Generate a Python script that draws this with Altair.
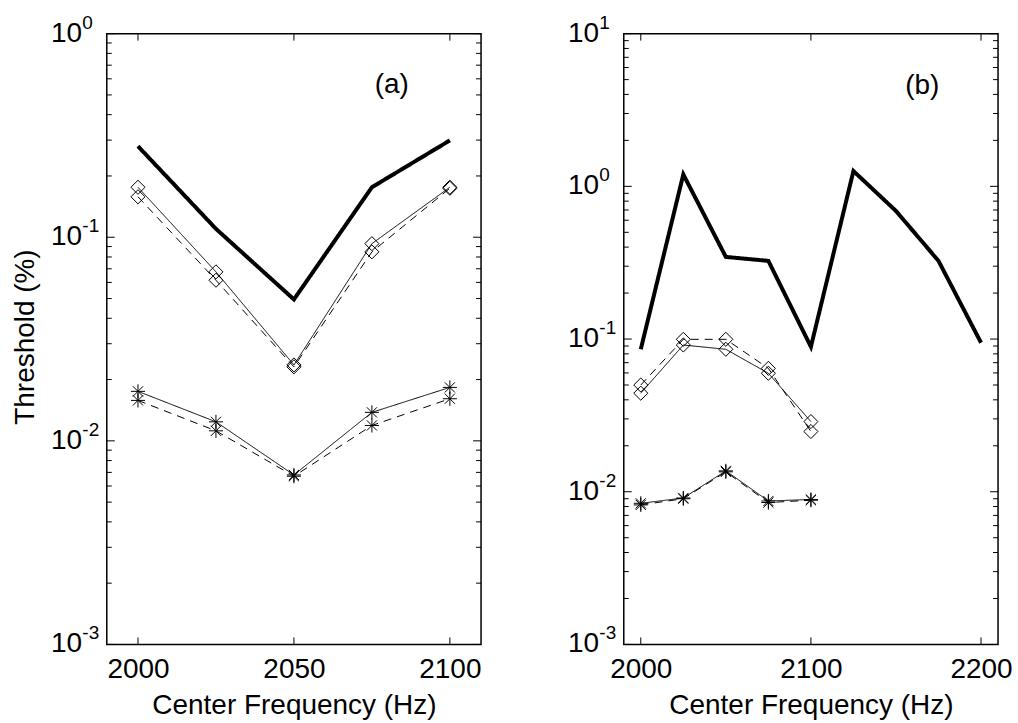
import altair as alt
import pandas as pd

# ---------------- data ----------------
freq_a = [2000, 2025, 2050, 2075, 2100]
a_thick = [0.28, 0.11, 0.0495, 0.176, 0.299]
a_dia_solid = [0.176, 0.0676, 0.0236, 0.093, 0.176]
a_dia_dash = [0.158, 0.0615, 0.0231, 0.0848, 0.174]
a_star_solid = [0.0175, 0.0124, 0.0068, 0.0138, 0.0183]
a_star_dash = [0.0158, 0.0112, 0.0067, 0.0119, 0.0161]

freq_b_thick = [2000, 2025, 2050, 2075, 2100, 2125, 2150, 2175, 2200]
b_thick = [0.0857, 1.197, 0.345, 0.325, 0.089, 1.26, 0.69, 0.325, 0.0946]
freq_b = [2000, 2025, 2050, 2075, 2100]
b_dia_solid = [0.0442, 0.0914, 0.0857, 0.0597, 0.0288]
b_dia_dash = [0.05, 0.0996, 0.0996, 0.0643, 0.0248]
b_star_solid = [0.0084, 0.0091, 0.0137, 0.0087, 0.0089]
b_star_dash = [0.0082, 0.0090, 0.0135, 0.0085, 0.0088]

xticks_a = [2000, 2050, 2100]
xticks_b = [2000, 2100, 2200]
decades_a = [0.001, 0.01, 0.1, 1]
exps_a = ["-3", "-2", "-1", "0"]
decades_b = [0.001, 0.01, 0.1, 1, 10]
exps_b = ["-3", "-2", "-1", "0", "1"]

FONT = "Liberation Sans"
W, H = 375, 612
STAR = "M-1,0L1,0M0,-1L0,1M-0.72,-0.72L0.72,0.72M-0.72,0.72L0.72,-0.72"


def minor_ticks(decades):
    out = []
    for d in decades[:-1]:
        for m in range(2, 10):
            out.append(d * m)
    return out


def panel(xdom, ydom, xticks, decades, exps, series, label, lx, ly, ytitle):
    xs = alt.Scale(domain=xdom, nice=False, zero=False)
    ys = alt.Scale(type="log", domain=ydom, nice=False)
    xaxis = alt.Axis(values=xticks, ticks=False, domain=False, grid=False,
                     labelFontSize=28, labelPadding=11, labelFont=FONT,
                     labelColor="black", format="d", labelFlush=False,
                     title="Center Frequency (Hz)", titleFontSize=28,
                     titleFont=FONT, titleFontWeight="normal", titleColor="black",
                     titlePadding=8)

    def X():
        return alt.X("x:Q", scale=xs, axis=xaxis)

    def Y():
        return alt.Y("y:Q", scale=ys, axis=None)

    layers = []
    for xv, yv, width, dash, shape in series:
        df = pd.DataFrame({"x": xv, "y": yv})
        lm = alt.Chart(df).mark_line(color="black", strokeWidth=width,
                                     strokeDash=dash if dash else [1, 0],
                                     clip=True)
        layers.append(lm.encode(x=X(), y=Y()))
        if shape is not None:
            pm = alt.Chart(df).mark_point(shape=shape, filled=False, color="black",
                                          strokeWidth=1, size=200, opacity=1)
            layers.append(pm.encode(x=X(), y=Y()))
    # inward ticks
    xt = pd.DataFrame({"x": xticks})
    for y0, y1 in [(H, H - 7), (0, 7)]:
        layers.append(alt.Chart(xt).mark_rule(color="black", strokeWidth=1).encode(
            x=X(), y=alt.value(y0), y2=alt.value(y1)))
    maj = pd.DataFrame({"y": decades})
    mnr = pd.DataFrame({"y": minor_ticks(decades)})
    for df, ln in [(maj, 8), (mnr, 5)]:
        for x0, x1 in [(0, ln), (W, W - ln)]:
            layers.append(alt.Chart(df).mark_rule(color="black", strokeWidth=1).encode(
                y=Y(), x=alt.value(x0), x2=alt.value(x1)))
    # y tick labels 10^n
    lab = pd.DataFrame({"y": decades, "e": exps})
    layers.append(alt.Chart(lab).mark_text(text="10", font=FONT, fontSize=28, align="left",
                                           baseline="middle", color="black").encode(
        y=Y(), x=alt.value(-56)))
    layers.append(alt.Chart(lab).mark_text(font=FONT, fontSize=19, align="left",
                                           baseline="middle", dy=-11, color="black").encode(
        y=Y(), x=alt.value(-24.5), text="e:N"))
    # panel label
    pl = pd.DataFrame({"x": [lx], "y": [ly], "t": [label]})
    layers.append(alt.Chart(pl).mark_text(font=FONT, fontSize=28, baseline="middle",
                                          align="center", color="black").encode(
        x=X(), y=Y(), text="t:N"))
    if ytitle:
        tt = pd.DataFrame({"t": [ytitle]})
        layers.append(alt.Chart(tt).mark_text(font=FONT, fontSize=28, angle=270,
                                              baseline="alphabetic", align="center",
                                              color="black").encode(
            x=alt.value(-73), y=alt.value(H / 2 - 2), text="t:N"))
    return alt.layer(*layers).properties(width=W, height=H)


series_a = [
    (freq_a, a_thick, 4, None, None),
    (freq_a, a_dia_solid, 1, None, "diamond"),
    (freq_a, a_dia_dash, 1, [8, 6], "diamond"),
    (freq_a, a_star_solid, 1, None, STAR),
    (freq_a, a_star_dash, 1, [8, 6], STAR),
]
series_b = [
    (freq_b_thick, b_thick, 4, None, None),
    (freq_b, b_dia_solid, 1, None, "diamond"),
    (freq_b, b_dia_dash, 1, [8, 6], "diamond"),
    (freq_b, b_star_solid, 1, None, STAR),
    (freq_b, b_star_dash, 1, [8, 6], STAR),
]

pa = panel([1990, 2110], [0.001, 1], xticks_a, decades_a, exps_a, series_a,
           "(a)", 2081.4, 0.562, "Threshold (%)")
pb = panel([1990, 2210], [0.001, 10], xticks_b, decades_b, exps_b, series_b,
           "(b)", 2165.5, 4.57, None)

chart = alt.hconcat(pa, pb, spacing=84).properties(
    padding={"left": 11, "top": 12, "right": 5, "bottom": 5},
    background="white",
).configure(font=FONT).configure_view(stroke="black", strokeWidth=1.5)

chart.save("out.html", embed_options={"renderer": "svg", "actions": False})
